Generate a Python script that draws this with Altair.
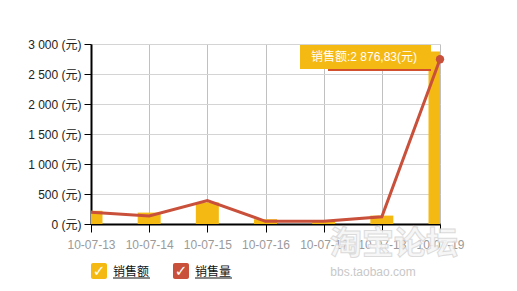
import altair as alt
import pandas as pd

dates = ["10-07-13", "10-07-14", "10-07-15", "10-07-16", "10-07-17", "10-07-18", "10-07-19"]
amount = [220, 190, 360, 80, 50, 140, 2876.83]   # 销售额 (元)
qty = [13, 9, 26, 3, 3, 8, 183]                   # 销售量 (件)
amount_ticks = [0, 500, 1000, 1500, 2000, 2500, 3000]
qty_ticks = [0, 50, 100, 150, 200]
series = ["销售额", "销售量"]
series_colors = ["#f5b914", "#c9503a"]

df = pd.DataFrame({"date": dates, "amount": amount, "qty": qty})
last = df.iloc[[-1]]

FONT = "Liberation Sans, Noto Sans CJK SC"

x = alt.X("date:O", sort=dates,
          scale=alt.Scale(type="point", padding=0),
          axis=alt.Axis(title=None, labelAngle=0, labelColor="#9a9a9a", labelFontSize=12,
                        labelFont=FONT, grid=True, gridColor="#c0c0c0",
                        domainColor="#000", domainWidth=2, tickColor="#000",
                        tickSize=8, labelPadding=7))

bars = alt.Chart(df).mark_bar(size=23, color=series_colors[0], clip=True).encode(
    x=x,
    y=alt.Y("amount:Q", scale=alt.Scale(domain=[0, 3000]),
            axis=alt.Axis(title=None, values=amount_ticks, orient="left",
                          labelExpr="replace(format(datum.value, ','), ',', ' ') + ' (元)'",
                          labelFont=FONT, labelFontSize=12, labelColor="#222",
                          grid=True, gridColor="#d4d4d4",
                          domainColor="#000", domainWidth=2, tickColor="#000",
                          tickSize=7, labelPadding=3)),
)

line = alt.Chart(df).mark_line(color=series_colors[1], strokeWidth=3).encode(
    x=x,
    y=alt.Y("qty:Q", scale=alt.Scale(domain=[0, 200]),
            axis=alt.Axis(title=None, values=qty_ticks, orient="right",
                          labelExpr="datum.value + ' (件)'",
                          labelFont=FONT, labelFontSize=12, labelColor="#222",
                          grid=False, domainColor="#000", domainWidth=2,
                          tickColor="#000", tickSize=6, labelPadding=3)),
)
endpoint = alt.Chart(last).mark_circle(size=70, color=series_colors[1], opacity=1).encode(
    x=x, y=alt.Y("qty:Q", axis=None)
)
line_group = alt.layer(line, endpoint)

tip_text = "销售额:" + f"{amount[-1]:,.2f}".replace(",", " ").replace(".", ",") + "(元)"
tip_df = pd.DataFrame({"t": [tip_text]})
tip_shadow = alt.Chart(tip_df).mark_rect(color="#d2502e").encode(
    x=alt.value(237), x2=alt.value(340), y=alt.value(24), y2=alt.value(27))
tip_box = alt.Chart(tip_df).mark_rect(color="#f5b914").encode(
    x=alt.value(209), x2=alt.value(340), y=alt.value(1), y2=alt.value(25))
tip_label = alt.Chart(tip_df).mark_text(color="white", fontSize=12, font=FONT).encode(
    x=alt.value(273), y=alt.value(13), text="t:N")

# custom legend
leg = []
for i, (name, col) in enumerate(zip(series, series_colors)):
    x0 = 0 + i * 82
    d = pd.DataFrame({"name": [name]})
    leg.append(alt.Chart(d).mark_rect(color=col, cornerRadius=2).encode(
        x=alt.value(x0), x2=alt.value(x0 + 16), y=alt.value(219), y2=alt.value(235)))
    leg.append(alt.Chart(d).mark_text(text="✓", color="white", fontSize=15, fontWeight="bold",
                                      font="DejaVu Sans").encode(
        x=alt.value(x0 + 8), y=alt.value(227)))
    leg.append(alt.Chart(d).mark_text(align="left", color="#111", fontSize=12, font=FONT).encode(
        x=alt.value(x0 + 22), y=alt.value(228), text="name:N"))
    leg.append(alt.Chart(d).mark_rule(color="#111", strokeWidth=1).encode(
        x=alt.value(x0 + 22), x2=alt.value(x0 + 59), y=alt.value(234)))

wm = pd.DataFrame({"a": ["淘宝论坛"], "b": ["bbs.taobao.com"]})
wm1 = alt.Chart(wm).mark_text(fontSize=32, fontWeight="bold", font="Noto Sans CJK SC",
                              fill="#f6f6f6", stroke="#d8d8d8", strokeWidth=1, opacity=0.9).encode(
    x=alt.value(303), y=alt.value(200), text="a:N")
wm2 = alt.Chart(wm).mark_text(fontSize=12, font=FONT, color="#c8c8c8").encode(
    x=alt.value(282), y=alt.value(228), text="b:N")

chart = alt.layer(bars, line_group, tip_shadow, tip_box, tip_label, *leg, wm1, wm2).resolve_scale(
    y="independent"
).properties(
    width=349, height=180,
    autosize=alt.AutoSizeParams(type="none"),
    padding={"left": 91, "top": 44, "right": 77, "bottom": 67},
    background="white",
).configure_view(stroke=None)

chart.save("out.html", embed_options={"renderer": "svg", "actions": False})
